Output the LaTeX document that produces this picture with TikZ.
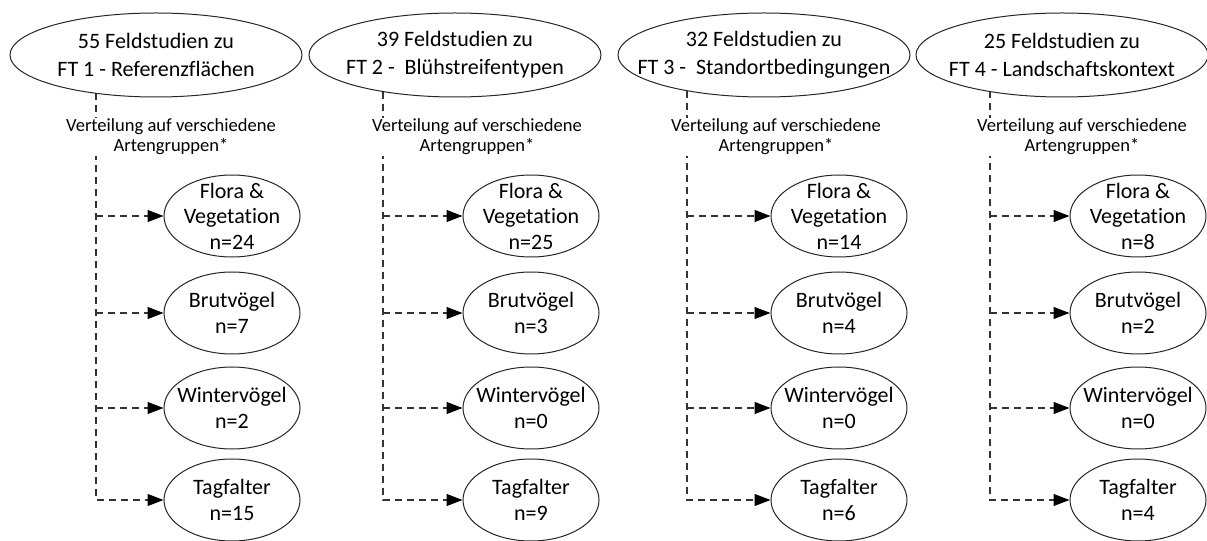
\documentclass[tikz,border=0pt]{standalone}
\usepackage{fontspec}
\setmainfont{Carlito}[Ligatures=NoCommon]
\usetikzlibrary{shapes.geometric,arrows.meta}

\begin{document}
\begin{tikzpicture}[x=0.75pt,y=-0.75pt]
    \pgfmathsetmacro{\studyw}{219}
    \pgfmathsetmacro{\studyh}{63}
    \pgfmathsetmacro{\groupw}{102}
    \pgfmathsetmacro{\grouph}{61.5}
    \tikzset{
        every node/.style={inner sep=0pt},
        studybox/.style={ellipse,draw=black!85,line width=0.75pt,minimum width=\studyw pt,minimum height=\studyh pt},
        studytext/.style={align=center,font=\fontsize{16.5}{20.8}\selectfont},
        groupbox/.style={ellipse,draw=black!85,line width=0.75pt,minimum width=\groupw pt,minimum height=\grouph pt},
        grouptext/.style={align=center,font=\fontsize{16.5}{19.1}\selectfont},
        splittext/.style={align=center,fill=white,inner sep=1pt,font=\fontsize{13.9}{15}\selectfont},
        dashline/.style={draw=black!80,line width=0.85pt,dash pattern=on 5.5pt off 3.5pt},
        dasharrow/.style={dashline,-{Triangle[length=12pt,width=9pt,color=black]}}
    }
    \useasboundingbox (0,0) rectangle (1207,541);
    \node[studybox,label={[studytext]center:55 Feldstudien zu\\FT 1 - Referenzflächen}] (study1) at (156,55) {};
\node[studybox,label={[studytext]center:39 Feldstudien zu\\FT 2 - \ Blühstreifentypen}] (study2) at (455,55) {};
\node[studybox,label={[studytext]center:32 Feldstudien zu\\FT 3 - \ Standortbedingungen}] (study3) at (764,55) {};
\node[studybox,label={[studytext]center:25 Feldstudien zu\\FT 4 - Landschaftskontext}] (study4) at (1062,55) {};
\node[groupbox,label={[grouptext]center:Flora \&\\Vegetation\\n=24}] (flora1) at (232,216) {};
\node[groupbox,label={[grouptext]center:Brutvögel\\n=7}] (brut1) at (232,313) {};
\node[groupbox,label={[grouptext]center:Wintervögel\\n=2}] (winter1) at (232,408) {};
\node[groupbox,label={[grouptext]center:Tagfalter\\n=15}] (tag1) at (232,500) {};
\node[groupbox,label={[grouptext]center:Flora \&\\Vegetation\\n=25}] (flora2) at (531,216) {};
\node[groupbox,label={[grouptext]center:Brutvögel\\n=3}] (brut2) at (531,313) {};
\node[groupbox,label={[grouptext]center:Wintervögel\\n=0}] (winter2) at (531,408) {};
\node[groupbox,label={[grouptext]center:Tagfalter\\n=9}] (tag2) at (531,500) {};
\node[groupbox,label={[grouptext]center:Flora \&\\Vegetation\\n=14}] (flora3) at (839,216) {};
\node[groupbox,label={[grouptext]center:Brutvögel\\n=4}] (brut3) at (839,313) {};
\node[groupbox,label={[grouptext]center:Wintervögel\\n=0}] (winter3) at (839,408) {};
\node[groupbox,label={[grouptext]center:Tagfalter\\n=6}] (tag3) at (839,500) {};
\node[groupbox,label={[grouptext]center:Flora \&\\Vegetation\\n=8}] (flora4) at (1138,216) {};
\node[groupbox,label={[grouptext]center:Brutvögel\\n=2}] (brut4) at (1138,313) {};
\node[groupbox,label={[grouptext]center:Wintervögel\\n=0}] (winter4) at (1138,408) {};
\node[groupbox,label={[grouptext]center:Tagfalter\\n=4}] (tag4) at (1138,500) {};
\coordinate (bus1) at (96,93);
\coordinate (bus2) at (383,92);
\coordinate (bus3) at (687,91);
\coordinate (bus4) at (990,91);
\draw[dasharrow] (bus1) |- (tag1.west);
\draw[dasharrow] (bus1 |- flora1.west) -- (flora1.west);
\draw[dasharrow] (bus1 |- brut1.west) -- (brut1.west);
\draw[dasharrow] (bus1 |- winter1.west) -- (winter1.west);
\draw[dasharrow] (bus2) |- (tag2.west);
\draw[dasharrow] (bus2 |- flora2.west) -- (flora2.west);
\draw[dasharrow] (bus2 |- brut2.west) -- (brut2.west);
\draw[dasharrow] (bus2 |- winter2.west) -- (winter2.west);
\draw[dasharrow] (bus3) |- (tag3.west);
\draw[dasharrow] (bus3 |- flora3.west) -- (flora3.west);
\draw[dasharrow] (bus3 |- brut3.west) -- (brut3.west);
\draw[dasharrow] (bus3 |- winter3.west) -- (winter3.west);
\draw[dasharrow] (bus4) |- (tag4.west);
\draw[dasharrow] (bus4 |- flora4.west) -- (flora4.west);
\draw[dasharrow] (bus4 |- brut4.west) -- (brut4.west);
\draw[dasharrow] (bus4 |- winter4.west) -- (winter4.west);
\node[splittext] (split1) at (171,137) {Verteilung auf verschiedene\\Artengruppen*};
\node[splittext] (split2) at (477,137) {Verteilung auf verschiedene\\Artengruppen*};
\node[splittext] (split3) at (776,137) {Verteilung auf verschiedene\\Artengruppen*};
\node[splittext] (split4) at (1082,137) {Verteilung auf verschiedene\\Artengruppen*};

\end{tikzpicture}
\end{document}
